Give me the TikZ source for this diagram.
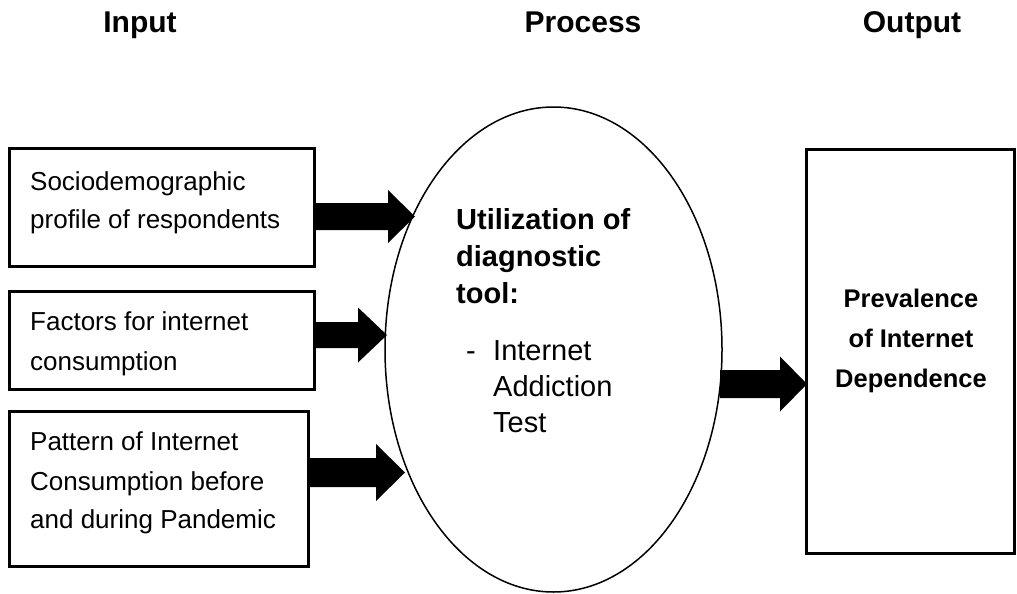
\documentclass[tikz,border=0pt]{standalone}
\usepackage{fontspec}
\setmainfont{Liberation Sans}
\usetikzlibrary{shapes.geometric}
\tikzset{
  inbox/.style={draw, line width=3pt, rectangle, inner sep=0pt, anchor=north west},
  hdr/.style={font=\bfseries\fontsize{30}{36}\selectfont, anchor=base, inner sep=0pt},
  boxtxt/.style={font=\fontsize{26}{38}\selectfont, anchor=base west, inner sep=0pt},
  elltxt/.style={font=\fontsize{29}{36}\selectfont, anchor=base west, inner sep=0pt},
  elltxtb/.style={font=\bfseries\fontsize{29}{36}\selectfont, anchor=base west, inner sep=0pt},
  outtxt/.style={font=\bfseries\fontsize{25.5}{40}\selectfont, anchor=base, inner sep=0pt},
  blockarrow/.style={fill=black},
}
% #1 start x, #2 head start x, #3 tip x, #4 centre y, #5 shaft half height, #6 head half height
\newcommand\myblockarrow[6]{%
  \fill[blockarrow] (#1,{#4-#5}) -- (#2,{#4-#5}) -- (#2,{#4-#6}) -- (#3,#4)
    -- (#2,{#4+#6}) -- (#2,{#4+#5}) -- (#1,{#4+#5}) -- cycle;}
\begin{document}
\begin{tikzpicture}[x=1pt,y=-1pt]
\useasboundingbox (0,0) rectangle (1017,594);
% headers
\node[hdr] (hin) at (140,33) {Input};
\node[hdr] (hproc) at (583,33) {Process};
\node[hdr] (hout) at (912,33) {Output};
% input boxes
\node[inbox, minimum width=305pt, minimum height=118pt] (b1) at (8,147) {};
\node[inbox, minimum width=305pt, minimum height=98pt] (b2) at (8,290) {};
\node[inbox, minimum width=299pt, minimum height=155pt] (b3) at (8,410) {};
\node[boxtxt] (b1a) at (30,190) {Sociodemographic};
\node[boxtxt] (b1b) at (30,228) {profile of respondents};
\node[boxtxt] (b2a) at (30,330) {Factors for internet};
\node[boxtxt] (b2b) at (30,370) {consumption};
\node[boxtxt] (b3a) at (30,450) {Pattern of Internet};
\node[boxtxt] (b3b) at (30,490) {Consumption before};
\node[boxtxt] (b3c) at (30,528) {and during Pandemic};
% process ellipse
\node[draw, ellipse, line width=1.5pt, minimum width=337pt, minimum height=485pt, inner sep=0pt] (proc) at (553.5,349.5) {};
\node[elltxtb] (p1) at (456,229) {Utilization of};
\node[elltxtb] (p2) at (456,266) {diagnostic};
\node[elltxtb] (p3) at (456,303) {tool:};
\node[elltxt] (pd) at (466,360) {-};
\node[elltxt] (p4) at (493,360) {Internet};
\node[elltxt] (p5) at (493,396) {Addiction};
\node[elltxt] (p6) at (493,432) {Test};
% output box
\node[inbox, minimum width=208pt, minimum height=404pt] (out) at (805,148) {};
\node[outtxt] (o1) at (911,307) {Prevalence};
\node[outtxt] (o2) at (911,347) {of Internet};
\node[outtxt] (o3) at (911,387) {Dependence};
% block arrows
\myblockarrow{313}{388}{415}{216.5}{13.5}{26.5}
\myblockarrow{313}{358}{387}{335}{13}{27.5}
\myblockarrow{307}{376}{405}{472.5}{14.5}{28.5}
\myblockarrow{720}{780}{807}{384}{14}{27.5}
\end{tikzpicture}
\end{document}
